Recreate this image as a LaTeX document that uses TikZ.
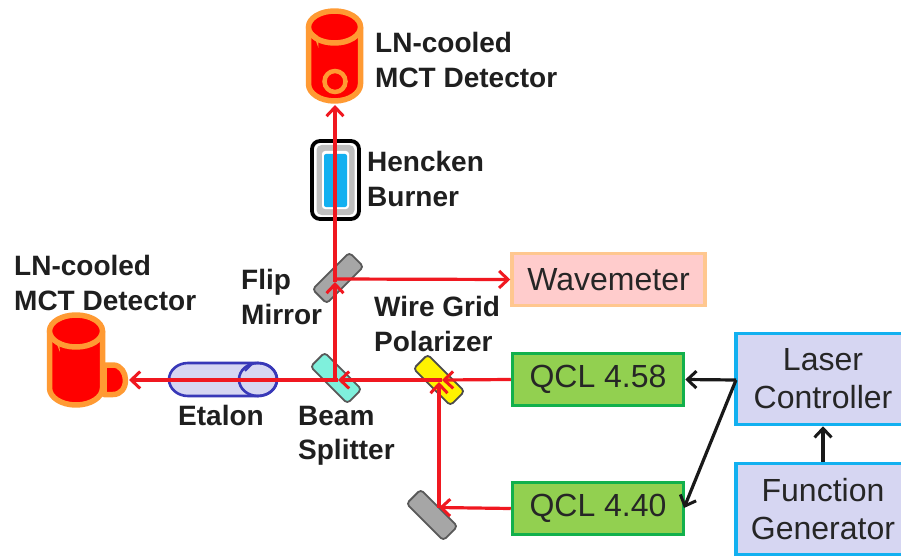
\documentclass[tikz,border=0pt]{standalone}
\usepackage{fontspec}
\setmainfont{Liberation Sans}
\usetikzlibrary{arrows.meta}
\definecolor{beam}{HTML}{F01820}
\definecolor{orng}{HTML}{FF9A33}
\definecolor{lav}{HTML}{D6D6F2}
\definecolor{cyn}{HTML}{12B0F0}
\definecolor{grn}{HTML}{12B04C}
\definecolor{lgrn}{HTML}{92D050}
\definecolor{aqua}{HTML}{7FF0DC}
\definecolor{etal}{HTML}{3838B8}
\tikzset{
  x=1pt,y=-1pt,
  ray/.style={draw=beam,line width=3.2pt,-{Straight Barb[length=9pt,width=17pt,line width=3pt]}},
  ctl/.style={draw=black!90,line width=3.2pt,-{Straight Barb[length=9pt,width=17pt,line width=3pt]}},
  lab/.style={anchor=west,inner sep=0pt,align=left,font=\fontsize{28}{34.5}\selectfont\bfseries,text=black!88},
  instr/.style={draw,line width=3.5pt,minimum height=0,inner sep=0pt,align=center,font=\fontsize{32}{38}\selectfont,text=black!85},
  mirr/.style={draw=#1,line width=1.8pt,rounded corners=3.5pt,minimum width=52pt,minimum height=20pt,inner sep=0pt},
  coldbody/.style={fill=red,draw=orng,line width=5.5pt,line join=round},
}
\begin{document}
\begin{tikzpicture}
\useasboundingbox (0,0) rectangle (901,556);
\fill[white] (0,0) rectangle (901,556);

% Mirrors and optics
\node[mirr=black!65,fill=black!35,rotate=45] (flip) at (338,278) {};
\node[mirr=black!65,fill=aqua,rotate=-45] (split) at (336,378) {};
\node[mirr=black!70,fill=yellow,rotate=-45] (grid) at (439,380) {};
\node[mirr=black!65,fill=black!35,rotate=-45] (low) at (432,515) {};

% Top detector
\draw[coldbody] (308.5,27) -- (308.5,84) arc[start angle=180,end angle=0,x radius=26,y radius=17] -- (360.5,27) -- cycle;
\draw[coldbody] (334.5,27) ellipse[x radius=26,y radius=16];
\fill[orng] (309,29) -- (318,36) -- (318.5,48) -- (314,36) -- cycle;
\draw[orng,line width=4.5pt] (335,81.5) circle[radius=10.5];
\coordinate (topdet) at (335,105);

% Left detector
\draw[coldbody] (104,365) -- (113,365) .. controls (121,365) and (125.5,373) .. (125.5,380) .. controls (125.5,388) and (121,394.5) .. (113,394.5) -- (104,394.5) -- cycle;
\draw[coldbody] (49.5,331) -- (49.5,388) arc[start angle=180,end angle=0,x radius=26.5,y radius=17] -- (102.5,331) -- cycle;
\draw[coldbody] (76,331) ellipse[x radius=26.5,y radius=16];
\fill[orng] (51,334) -- (59,341) -- (60,352) -- (56,342) -- cycle;
\coordinate (leftdet) at (129,380);

% Burner
\node[draw=black,line width=3.8pt,rounded corners=8pt,fill=white,minimum width=47pt,minimum height=78pt,inner sep=0pt] (burner) at (335.5,180) {};
\node[fill=black!25,rounded corners=5pt,minimum width=38pt,minimum height=70pt,inner sep=0pt] at (335.5,180) {};
\node[fill=white,rounded corners=3pt,minimum width=27pt,minimum height=58pt,inner sep=0pt] at (335.5,180) {};
\node[fill=cyn,rounded corners=2pt,minimum width=23pt,minimum height=53pt,inner sep=0pt] at (335.5,180.5) {};

% Etalon
\draw[draw=etal,fill=lav,line width=2.6pt] (258,363) -- (188,363) arc[start angle=270,end angle=90,x radius=19,y radius=16.5] -- (258,396) arc[start angle=90,end angle=-90,x radius=19,y radius=16.5] -- cycle;
\draw[draw=etal,line width=2.6pt] (258,379.5) ellipse[x radius=19,y radius=16.5];
\draw[etal,line width=2pt] (245,371) -- (252,364);
\coordinate (etalon) at (223,380);

% Instruments
\node[instr,draw=orng!55,fill=red!20,minimum width=193pt,minimum height=52pt] (wave) at (608.5,279.5) {Wavemeter};
\node[instr,draw=grn,fill=lgrn,minimum width=171pt,minimum height=52pt] (q58) at (598,379.5) {QCL 4.58};
\node[instr,draw=grn,fill=lgrn,minimum width=171pt,minimum height=52pt] (q40) at (598,508.5) {QCL 4.40};
\node[instr,draw=cyn,fill=lav,minimum width=174pt,minimum height=91pt] (laser) at (823,379) {Laser\\Controller};
\node[instr,draw=cyn,fill=lav,minimum width=174pt,minimum height=91pt] (func) at (823,509) {Function\\Generator};

% Beam junction points
\coordinate (gridhit) at (442,380);
\coordinate (splithit) at (338,380);
\coordinate (splitup) at (335,380);
\coordinate (fliphit) at (335,282);
\coordinate (wavehit) at (335,279);
\coordinate (lowhit) at (439,507.5);
\coordinate (gridup) at (439,382);

% Red beams
\draw[ray] (q58.west) -- (gridhit);
\draw[ray] (gridhit) -- (splithit);
\draw[ray] (splithit) -- (leftdet);
\draw[ray] (q40.west) -- (lowhit);
\draw[ray] (lowhit) -- (gridup);
\draw[ray] (splitup) -- (fliphit);
\draw[ray] (fliphit) -- (topdet);
\draw[ray] (wavehit) -- (wave.west);

% Control lines
\coordinate (ctlsrc) at (736,380);
\coordinate (q40in) at (684,508);
\draw[ctl] (ctlsrc) -- (q58.east);
\draw[ctl] (ctlsrc) -- (q40in);
\draw[ctl] (func.north) -- (laser.south);

% Labels
\node[lab] (l1) at (375,60) {LN-cooled\\MCT Detector};
\node[lab] (l2) at (367,179) {Hencken\\Burner};
\node[lab] (l3) at (14,283) {LN-cooled\\MCT Detector};
\node[lab] (l4) at (241,297) {Flip\\Mirror};
\node[lab] (l5) at (374,324) {Wire Grid\\Polarizer};
\node[lab] (l6) at (178,415) {Etalon};
\node[lab] (l7) at (298,436) {Beam\\Splitter};
\end{tikzpicture}
\end{document}
